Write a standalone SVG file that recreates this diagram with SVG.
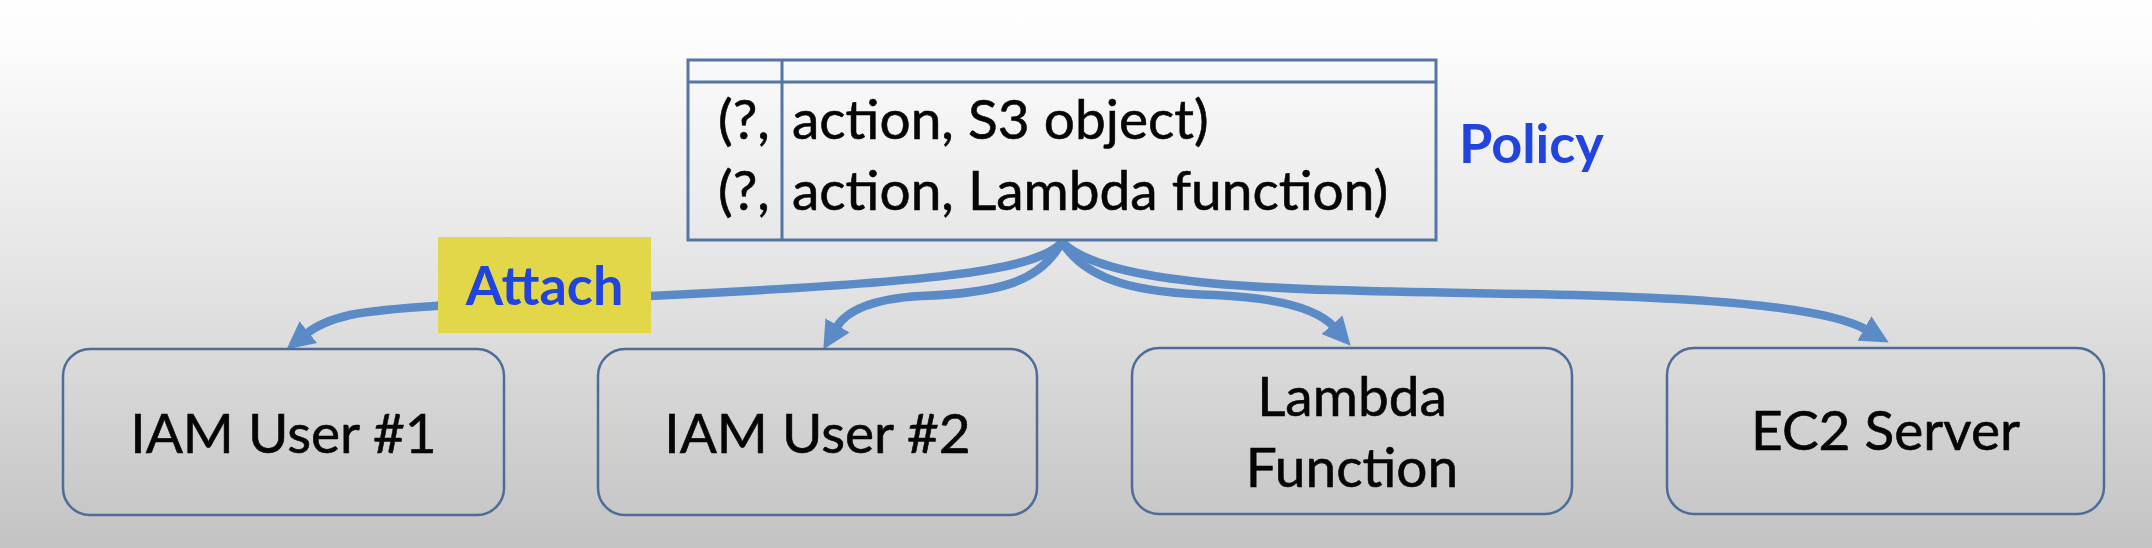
<svg xmlns="http://www.w3.org/2000/svg" width="2152" height="548" viewBox="0 0 2152 548">
<defs>
<linearGradient id="bg" x1="0" y1="0" x2="0" y2="1">
<stop offset="0" stop-color="#ffffff"/>
<stop offset="0.1" stop-color="#fbfbfb"/>
<stop offset="0.5" stop-color="#e4e4e4"/>
<stop offset="1" stop-color="#c3c3c3"/>
</linearGradient>
<marker id="ah" markerUnits="userSpaceOnUse" markerWidth="30" markerHeight="28" viewBox="0 0 30 28" refX="3" refY="14" orient="auto">
<path d="M0,0 L28,14 L0,28 z" fill="#5b8bc6"/>
</marker>
<style>
.box{fill:none;stroke:#4d6d97;stroke-width:2.5}
.t{font-family:Lato,"Liberation Sans",sans-serif;font-size:55px;fill:#050505;stroke:#050505;stroke-width:0.6}
.tc{text-anchor:middle}
.lbl{font-family:Lato,"Liberation Sans",sans-serif;font-weight:bold;font-size:54px;fill:#2144df}
.conn{fill:none;stroke:#5b8bc6;stroke-width:8.5;marker-end:url(#ah)}
.tbl{fill:none;stroke:#5575a3;stroke-width:3}
</style>
</defs>
<rect x="0" y="0" width="2152" height="548" fill="url(#bg)"/>

<g id="connectors">
<path class="conn" d="M1062,242 C1038,272 920,283 650,296 C520,302 400,305 350,315 C332,319 316,326 306,334"/>
<path class="conn" d="M1062,242 C1040,282 1000,293 920,296 C870,299 846,311 836,328"/>
<path class="conn" d="M1062,242 C1087,282 1140,293 1215,295 C1280,298 1318,309 1334,327"/>
<path class="conn" d="M1062,242 C1110,290 1300,290 1520,294 C1700,297 1825,306 1867,330"/>
</g>

<g id="policy">
<rect x="688" y="60" width="748" height="22" fill="#f6f8fa"/>
<rect class="tbl" x="688" y="60" width="748" height="180" fill="rgba(255,255,255,0.25)"/>
<line class="tbl" x1="688" y1="82" x2="1436" y2="82"/>
<line class="tbl" x1="782" y1="60" x2="782" y2="240"/>
<text class="t" x="718" y="139" font-size="57">(?,</text>
<text class="t" x="792" y="139" font-size="57">action, S3 object)</text>
<text class="t" x="718" y="210" font-size="57">(?,</text>
<text class="t" x="792" y="210" font-size="57">action, Lambda function)</text>
<text class="lbl" x="1459" y="163">Policy</text>
</g>

<g id="attach">
<rect x="438" y="237" width="213" height="96" fill="#e2d748"/>
<text class="lbl" x="544.5" y="305" text-anchor="middle">Attach</text>
</g>

<g id="iam1">
<rect class="box" x="63" y="349" width="441" height="166" rx="27"/>
<text class="t tc" x="283.5" y="453">IAM User #1</text>
</g>
<g id="iam2">
<rect class="box" x="598" y="349" width="439" height="166" rx="27"/>
<text class="t tc" x="817.5" y="453">IAM User #2</text>
</g>
<g id="lambda">
<rect class="box" x="1132" y="348" width="440" height="166" rx="27"/>
<text class="t tc" x="1352" y="416">Lambda</text>
<text class="t tc" x="1352" y="487">Function</text>
</g>
<g id="ec2">
<rect class="box" x="1667" y="348" width="437" height="166" rx="27"/>
<text class="t tc" x="1885.5" y="450">EC2 Server</text>
</g>
</svg>
